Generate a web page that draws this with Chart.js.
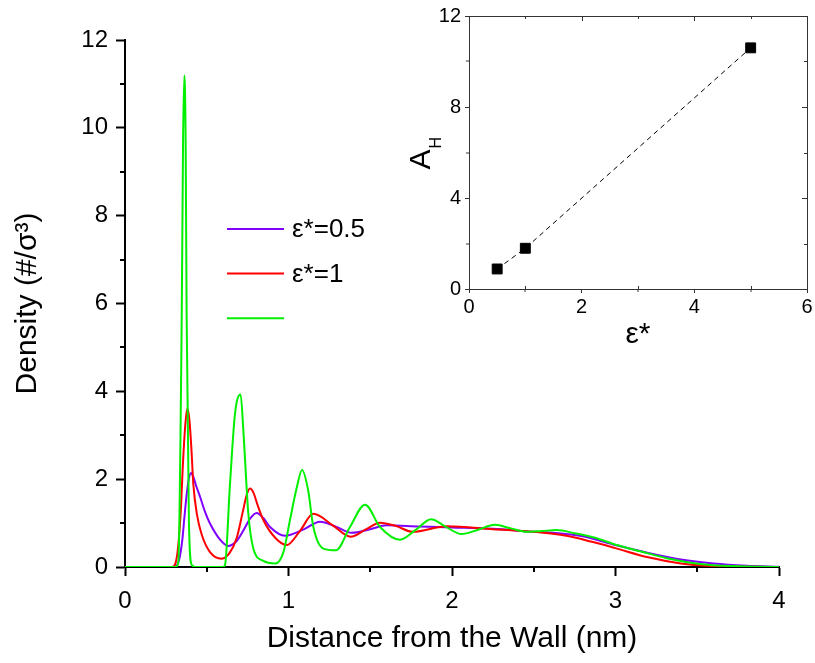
<!DOCTYPE html>
<html lang="en">
<head>
<meta charset="UTF-8">
<title>Density profiles near the wall</title>
<script src="https://cdn.jsdelivr.net/npm/chart.js"></script>
<style>
    body { margin: 0; background: #fff; }
    #wrap { position: relative; width: 815px; height: 663px; }
    #main { position: absolute; left: 0; top: 0; }
    #inset { position: absolute; left: 400px; top: 0; }
</style>
</head>
<body>
<div id="wrap">
    <canvas id="main" width="815" height="663"></canvas>
    <canvas id="inset" width="415" height="360"></canvas>
</div>
<script>
    // main plot: density vs distance (nm)
    var seriesLabels = ['ε*=0.5', 'ε*=1', ''];
    var seriesColors = ['#8000ff', '#ff0000', '#00f000'];

    var purpleX = [0, 0.30, 0.33, 0.35, 0.365, 0.377, 0.39, 0.404, 0.418, 0.435, 0.459, 0.49, 0.52, 0.58, 0.632, 0.68, 0.724, 0.765, 0.805, 0.845, 0.887, 0.979, 1.09, 1.193, 1.29, 1.387, 1.50, 1.60, 1.80, 2.00, 2.25, 2.50, 2.65, 2.80, 3.00, 3.20, 3.40, 3.60, 3.80, 4.00];
    var purpleY = [0, 0, 0.15, 0.60, 1.20, 1.64, 2.00, 2.14, 2.05, 1.85, 1.60, 1.25, 0.99, 0.63, 0.48, 0.58, 0.83, 1.10, 1.23, 1.12, 0.91, 0.71, 0.85, 1.03, 0.92, 0.78, 0.86, 0.95, 0.92, 0.90, 0.87, 0.80, 0.77, 0.70, 0.50, 0.32, 0.17, 0.08, 0.03, 0.005];

    var redX = [0, 0.29, 0.32, 0.34, 0.355, 0.368, 0.381, 0.394, 0.406, 0.418, 0.44, 0.469, 0.52, 0.591, 0.64, 0.683, 0.72, 0.745, 0.765, 0.785, 0.81, 0.846, 0.92, 0.989, 1.07, 1.152, 1.27, 1.38, 1.47, 1.56, 1.66, 1.76, 1.97, 2.25, 2.50, 2.70, 2.85, 3.00, 3.20, 3.40, 3.60, 3.80, 4.00];
    var redY = [0, 0, 0.30, 1.20, 2.40, 3.20, 3.61, 3.35, 2.70, 1.88, 1.20, 0.74, 0.34, 0.19, 0.32, 0.66, 1.25, 1.65, 1.79, 1.70, 1.42, 1.07, 0.66, 0.50, 0.82, 1.21, 0.95, 0.69, 0.85, 1.01, 0.93, 0.80, 0.93, 0.86, 0.80, 0.71, 0.58, 0.43, 0.22, 0.08, 0.02, 0.005, 0];

    var greenX = [0, 0.31, 0.326, 0.347, 0.355, 0.363, 0.371, 0.377, 0.391, 0.408, 0.43, 0.60, 0.612, 0.642, 0.673, 0.707, 0.724, 0.754, 0.785, 0.846, 0.92, 0.97, 1.009, 1.05, 1.083, 1.12, 1.152, 1.213, 1.29, 1.376, 1.468, 1.56, 1.682, 1.78, 1.872, 1.96, 2.059, 2.16, 2.263, 2.36, 2.457, 2.55, 2.64, 2.75, 2.88, 3.007, 3.15, 3.313, 3.517, 3.72, 4.00];
    var greenY = [0, 0, 0.10, 5.73, 9.66, 11.19, 9.66, 5.73, 1.02, 0.05, 0, 0, 0.05, 1.88, 3.50, 3.93, 3.10, 1.23, 0.42, 0.14, 0.08, 0.35, 1.07, 1.80, 2.21, 1.75, 0.91, 0.42, 0.38, 0.91, 1.42, 0.91, 0.62, 0.85, 1.09, 0.92, 0.75, 0.85, 0.96, 0.88, 0.80, 0.82, 0.84, 0.77, 0.66, 0.50, 0.36, 0.20, 0.07, 0.02, 0];

    var mainXMinor = [0.5, 1.5, 2.5, 3.5];
    var mainYMinor = [1, 3, 5, 7, 9, 11];

    // inset: Hamaker constant vs epsilon*
    var insetEps = [0.5, 1, 5];
    var insetAH = [0.88, 1.79, 10.6];
    var insetXMajor = [0, 2, 4, 6];
    var insetXMinor = [1, 3, 5];
    var insetYMajor = [0, 4, 8, 12];
    var insetYMinor = [2, 6, 10];

    var fontFamily = '"Liberation Sans", Arial, sans-serif';
    Chart.defaults.font.family = fontFamily;
    Chart.defaults.color = '#000';

    function pairs(xs, ys) {
        return xs.map(function(x, i) { return { x: x, y: ys[i] }; });
    }

    function tickLine(ctx, x1, y1, x2, y2) {
        ctx.beginPath();
        ctx.moveTo(x1, y1);
        ctx.lineTo(x2, y2);
        ctx.stroke();
    }

    // minor ticks (and mirrored frame for the inset)
    var axisDecor = {
        id: 'axisDecor',
        afterDraw: function(chart, args, o) {
            var ctx = chart.ctx, a = chart.chartArea;
            var sx = chart.scales.x, sy = chart.scales.y;
            ctx.save();
            ctx.strokeStyle = o.color;
            ctx.lineWidth = o.width;
            o.xMinor.forEach(function(v) {
                var px = Math.round(sx.getPixelForValue(v));
                tickLine(ctx, px, a.bottom, px, a.bottom + o.minorLen);
            });
            o.yMinor.forEach(function(v) {
                var py = Math.round(sy.getPixelForValue(v));
                tickLine(ctx, a.left, py, a.left - o.minorLen, py);
            });
            if (o.mirror) {
                tickLine(ctx, a.left, a.top + 0.5, a.right + 0.5, a.top + 0.5);
                tickLine(ctx, a.right + 0.5, a.top, a.right + 0.5, a.bottom);
                o.xMajor.forEach(function(v) {
                    var px = Math.round(sx.getPixelForValue(v)) + 0.5;
                    tickLine(ctx, px, a.top, px, a.top + o.majorLen);
                });
                o.xMinor.forEach(function(v) {
                    var px = Math.round(sx.getPixelForValue(v)) + 0.5;
                    tickLine(ctx, px, a.top, px, a.top + o.minorLen);
                    tickLine(ctx, px, a.bottom, px, a.bottom - o.minorLen);
                });
                o.yMajor.forEach(function(v) {
                    var py = Math.round(sy.getPixelForValue(v)) + 0.5;
                    tickLine(ctx, a.right, py, a.right - o.majorLen, py);
                });
                o.yMinor.forEach(function(v) {
                    var py = Math.round(sy.getPixelForValue(v)) + 0.5;
                    tickLine(ctx, a.right, py, a.right - o.minorLen, py);
                });
            }
            ctx.restore();
        }
    };

    // legend drawn inside the plot, green entry has no text
    var innerLegend = {
        id: 'innerLegend',
        afterDraw: function(chart, args, o) {
            var ctx = chart.ctx;
            ctx.save();
            ctx.font = o.font;
            ctx.textBaseline = 'middle';
            ctx.fillStyle = '#000';
            chart.data.datasets.forEach(function(ds, i) {
                var y = o.top + i * o.gap;
                ctx.strokeStyle = ds.borderColor;
                ctx.lineWidth = 2;
                tickLine(ctx, o.left, y, o.left + o.lineLen, y);
                ctx.fillText(ds.label, o.left + o.lineLen + 8, y + 1);
            });
            ctx.restore();
        }
    };

    // inset y title A with subscript H
    var subTitle = {
        id: 'subTitle',
        afterDraw: function(chart) {
            var ctx = chart.ctx, a = chart.chartArea;
            ctx.save();
            ctx.translate(a.left - 39, (a.top + a.bottom) / 2 + 17);
            ctx.rotate(-Math.PI / 2);
            ctx.fillStyle = '#000';
            ctx.textBaseline = 'alphabetic';
            ctx.textAlign = 'left';
            ctx.font = '30px ' + fontFamily;
            ctx.fillText('A', 0, 0);
            var w = ctx.measureText('A').width;
            ctx.font = '16px ' + fontFamily;
            ctx.fillText('H', w + 1, 11);
            ctx.restore();
        }
    };

    var mainData = [[purpleX, purpleY], [redX, redY], [greenX, greenY]];
    var drawOrder = [2, 1, 0];

    new Chart(document.getElementById('main').getContext('2d'), {
        type: 'line',
        data: {
            datasets: mainData.map(function(d, i) {
                return {
                    label: seriesLabels[i],
                    data: pairs(d[0], d[1]),
                    borderColor: seriesColors[i],
                    borderWidth: 2,
                    pointRadius: 0,
                    fill: false,
                    cubicInterpolationMode: 'monotone',
                    order: drawOrder[i]
                };
            })
        },
        options: {
            responsive: false,
            animation: false,
            layout: { padding: { top: 40, right: 36, left: 0, bottom: 0 } },
            plugins: {
                legend: { display: false },
                tooltip: { enabled: false },
                axisDecor: { xMinor: mainXMinor, yMinor: mainYMinor, minorLen: 5, width: 2, color: '#000', mirror: false },
                innerLegend: { left: 227, top: 229, gap: 44.6, lineLen: 57, font: '26px ' + fontFamily }
            },
            scales: {
                x: {
                    type: 'linear', min: 0, max: 4,
                    afterFit: function(s) { s.height = 96; },
                    ticks: { stepSize: 1, padding: 11, font: { size: 24 } },
                    grid: { drawOnChartArea: false, tickLength: 9, tickWidth: 2, tickColor: '#000' },
                    border: { color: '#000', width: 2 },
                    title: { display: true, text: 'Distance from the Wall (nm)', font: { size: 30 }, padding: { bottom: 6 } }
                },
                y: {
                    min: 0, max: 12,
                    afterFit: function(s) { s.width = 125; },
                    ticks: { stepSize: 2, padding: 8, font: { size: 24 } },
                    grid: { drawOnChartArea: false, tickLength: 9, tickWidth: 2, tickColor: '#000' },
                    border: { color: '#000', width: 2 },
                    title: { display: true, text: 'Density (#/σ³)', font: { size: 30 }, padding: { top: 10 } }
                }
            }
        },
        plugins: [axisDecor, innerLegend]
    });

    new Chart(document.getElementById('inset').getContext('2d'), {
        type: 'line',
        data: {
            datasets: [{
                data: pairs(insetEps, insetAH),
                borderColor: '#000',
                borderWidth: 1,
                borderDash: [5, 4],
                pointStyle: 'rect',
                pointRadius: 7,
                pointBackgroundColor: '#000',
                pointBorderColor: '#000',
                fill: false
            }]
        },
        options: {
            responsive: false,
            animation: false,
            layout: { padding: { top: 12, right: 6, left: 0, bottom: 0 } },
            plugins: {
                legend: { display: false },
                tooltip: { enabled: false },
                axisDecor: {
                    xMinor: insetXMinor, yMinor: insetYMinor, xMajor: insetXMajor, yMajor: insetYMajor,
                    minorLen: 3, majorLen: 5, width: 1, color: '#333', mirror: true
                }
            },
            scales: {
                x: {
                    type: 'linear', min: 0, max: 6,
                    afterFit: function(s) { s.height = 71; },
                    ticks: { stepSize: 2, padding: 2, font: { size: 20 } },
                    grid: { drawOnChartArea: false, tickLength: 4, tickWidth: 1, tickColor: '#333' },
                    border: { color: '#333', width: 1 },
                    title: { display: true, text: 'ε*', font: { size: 30 }, padding: { bottom: 7 } }
                },
                y: {
                    min: 0, max: 12,
                    afterFit: function(s) { s.width = 69; },
                    ticks: { stepSize: 4, padding: 4, font: { size: 20 } },
                    grid: { drawOnChartArea: false, tickLength: 4, tickWidth: 1, tickColor: '#333' },
                    border: { color: '#333', width: 1 }
                }
            }
        },
        plugins: [axisDecor, subTitle]
    });
</script>
</body>
</html>
